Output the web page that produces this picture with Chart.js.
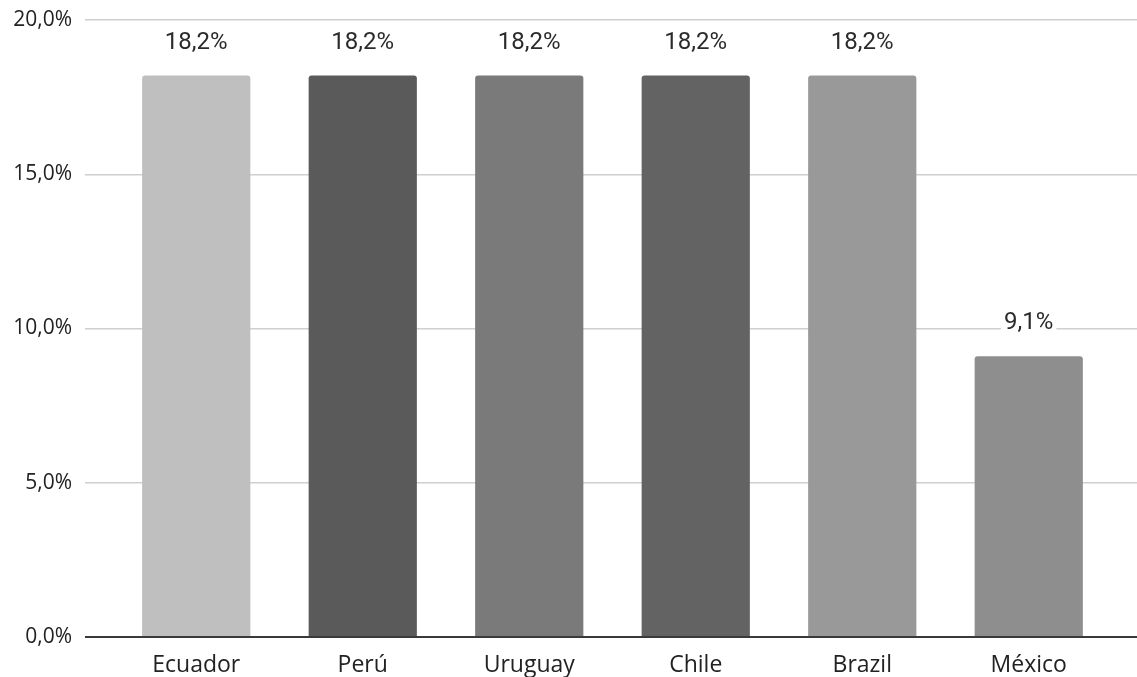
<!DOCTYPE html>
<html>
<head>
<meta charset="utf-8">
<script src="https://cdn.jsdelivr.net/npm/chart.js@4/dist/chart.umd.min.js"></script>
<style>
    html, body { margin: 0; padding: 0; background: #ffffff; }
    #wrap { width: 1137px; height: 677px; }
</style>
</head>
<body>
<div id="wrap"><canvas id="shareChart" width="1137" height="677"></canvas></div>
<script>
    'use strict';

    var countries = ['Ecuador', 'Perú', 'Uruguay', 'Chile', 'Brazil', 'México'];
    var shares = [18.2, 18.2, 18.2, 18.2, 18.2, 9.1];
    var barColors = ['#bfbfbf', '#5a5a5a', '#7a7a7a', '#636363', '#999999', '#8e8e8e'];
    var yTicks = [0, 5, 10, 15, 20];

    var pct = function (v) {
        return v.toFixed(1).replace('.', ',') + '%';
    };

    // grid lines: light grey, the baseline darker
    var gridColor = function (ctx) {
        return ctx.tick && ctx.tick.value === 0 ? '#3a3a3a' : '#cfcfcf';
    };
    var gridWidth = function (ctx) {
        return ctx.tick && ctx.tick.value === 0 ? 2 : 1.5;
    };

    // value text above each bar, on a white box so grid lines don't cross it
    var valueLabels = {
        id: 'valueLabels',
        afterDatasetsDraw: function (chart) {
            var ctx = chart.ctx;
            var meta = chart.getDatasetMeta(0);
            ctx.save();
            ctx.font = '24px Roboto';
            ctx.textAlign = 'center';
            ctx.textBaseline = 'middle';
            meta.data.forEach(function (bar, i) {
                var txt = pct(shares[i]);
                var w = ctx.measureText(txt).width;
                var y = bar.y - 33;
                ctx.fillStyle = '#ffffff';
                ctx.fillRect(bar.x - w / 2 - 3, y - 12, w + 6, 24);
                ctx.fillStyle = '#2b2b2b';
                ctx.fillText(txt, bar.x, y);
            });
            ctx.restore();
        }
    };

    var ctx = document.getElementById('shareChart').getContext('2d');
    new Chart(ctx, {
        type: 'bar',
        data: {
            labels: countries,
            datasets: [{
                data: shares,
                backgroundColor: barColors,
                borderRadius: 3,
                categoryPercentage: 1,
                barPercentage: 0.65
            }]
        },
        options: {
            responsive: false,
            animation: false,
            layout: { padding: 0 },
            plugins: {
                legend: { display: false },
                tooltip: { enabled: false }
            },
            scales: {
                x: {
                    grid: { display: false },
                    border: { display: false },
                    ticks: {
                        color: '#222222',
                        font: { family: 'Open Sans', size: 23 },
                        padding: 7
                    },
                    afterFit: function (s) { s.height = 40; }
                },
                y: {
                    min: 0,
                    max: 20,
                    afterBuildTicks: function (s) {
                        s.ticks = yTicks.map(function (v) { return { value: v }; });
                    },
                    border: { display: false },
                    grid: {
                        color: gridColor,
                        lineWidth: gridWidth,
                        drawTicks: true,
                        tickLength: 28
                    },
                    ticks: {
                        color: '#222222',
                        font: { family: 'Open Sans', size: 21 },
                        padding: 13,
                        callback: function (v) { return pct(v); }
                    },
                    afterFit: function (s) {
                        s.width = 113;
                        s.paddingTop = 20;
                        s.paddingBottom = 0;
                    }
                },
                yRight: {
                    position: 'right',
                    min: 0,
                    max: 20,
                    afterBuildTicks: function (s) {
                        s.ticks = yTicks.map(function (v) { return { value: v }; });
                    },
                    border: { display: false },
                    grid: {
                        color: gridColor,
                        lineWidth: gridWidth,
                        drawOnChartArea: false,
                        drawTicks: true,
                        tickLength: 25
                    },
                    ticks: { display: false },
                    afterFit: function (s) {
                        s.width = 25;
                        s.paddingTop = 0;
                        s.paddingBottom = 0;
                    }
                }
            }
        },
        plugins: [valueLabels]
    });
</script>
</body>
</html>
